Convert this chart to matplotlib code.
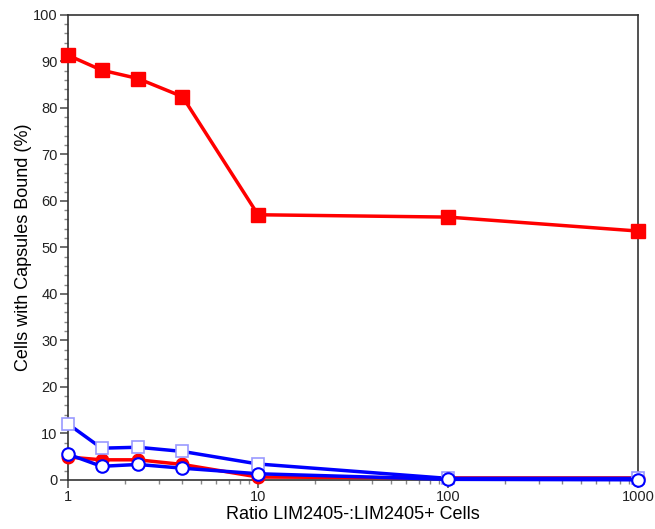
import matplotlib.pyplot as plt
from matplotlib.ticker import MultipleLocator, FixedLocator, FixedFormatter

plt.rcParams['font.family'] = ['Liberation Sans', 'DejaVu Sans']

ratio = [1, 1.5, 2.33, 4, 10, 100, 1000]
red_squares = [91.3, 88.1, 86.3, 82.4, 57.0, 56.5, 53.5]
red_circles = [4.9, 4.3, 4.3, 3.3, 0.6, 0.4, 0.4]
blue_squares = [12.0, 6.8, 7.0, 6.1, 3.4, 0.3, 0.3]
blue_circles = [5.5, 2.9, 3.3, 2.5, 1.3, 0.1, 0.0]

xticks = [1, 10, 100, 1000]
xticklabels = ['1', '10', '100', '1000']

fig = plt.figure(figsize=(6.55, 5.29), dpi=100)
ax = fig.add_axes([0.104, 0.093, 0.870, 0.879])

ax.plot(ratio, red_squares, color='#ff0000', lw=2.5, marker='s', ms=9.5,
        mfc='#ff0000', mec='#ff0000', clip_on=False, zorder=3)
ax.plot(ratio, red_circles, color='#ff0000', lw=2.5, marker='o', ms=9,
        mfc='#ff0000', mec='#ff0000', clip_on=False, zorder=3)
ax.plot(ratio, blue_squares, color='#0000ff', lw=2.5, marker='s', ms=9,
        mfc='white', mec='#9999ff', mew=1.2, clip_on=False, zorder=4)
ax.plot(ratio, blue_circles, color='#0000ff', lw=2.5, marker='o', ms=9,
        mfc='white', mec='#0000ff', mew=1.5, clip_on=False, zorder=5)

ax.set_xscale('log')
ax.set_xlim(1, 1000)
ax.set_ylim(0, 100)
ax.xaxis.set_major_locator(FixedLocator(xticks))
ax.xaxis.set_major_formatter(FixedFormatter(xticklabels))
ax.yaxis.set_major_locator(MultipleLocator(10))
ax.yaxis.set_minor_locator(MultipleLocator(2))

for s in ax.spines.values():
    s.set_color('#333333')
    s.set_linewidth(1.2)
ax.tick_params(which='major', length=6, width=1.2, color='#555555',
               labelsize=10.5, labelcolor='#222222', pad=1.5)
ax.tick_params(which='minor', length=3, width=1, color='#888888')

ax.set_xlabel('Ratio LIM2405-:LIM2405+ Cells', fontsize=13, labelpad=1)
ax.set_ylabel('Cells with Capsules Bound (%)', fontsize=13, labelpad=1)

fig.savefig('out.png', dpi=100)
